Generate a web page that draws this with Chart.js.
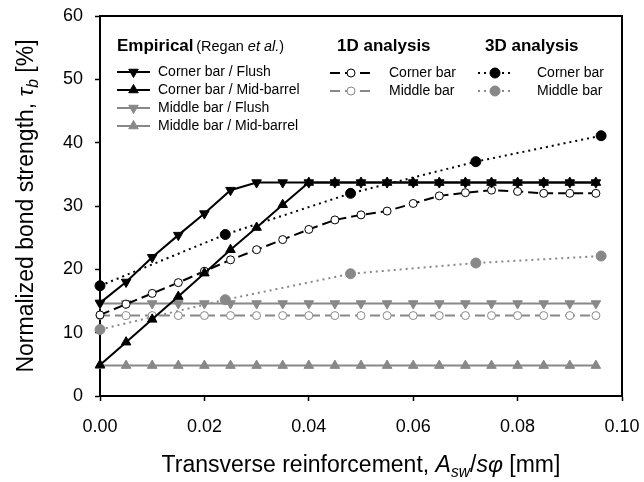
<!DOCTYPE html>
<html>
<head>
<meta charset="utf-8">
<script src="https://cdn.jsdelivr.net/npm/chart.js@4.4.1/dist/chart.umd.min.js"></script>
<style>
  html, body { margin: 0; padding: 0; background: #fff; }
  #wrap { width: 644px; height: 482px; position: relative; }
</style>
</head>
<body>
<div id="wrap"><canvas id="chart"></canvas></div>
<script>
'use strict';

// Stirrup ratio A_sw/s*phi [mm] for the empirical curves and the 1D model.
const xFine = [0, 0.005, 0.01, 0.015, 0.02, 0.025, 0.03, 0.035, 0.04, 0.045,
               0.05, 0.055, 0.06, 0.065, 0.07, 0.075, 0.08, 0.085, 0.09, 0.095];
// Coarser steps used by the 3D model runs.
const x3D = [0, 0.024, 0.048, 0.072, 0.096];

// Empirical (Regan et al.)
const cornerFlush = [14.7, 18.0, 21.9, 25.4, 28.8, 32.5, 33.7, 33.7, 33.7, 33.7,
                     33.7, 33.7, 33.7, 33.7, 33.7, 33.7, 33.7, 33.7, 33.7, 33.7];
const cornerMid = [4.9, 8.5, 12.1, 15.7, 19.4, 23.1, 26.6, 30.2, 33.7, 33.7,
                   33.7, 33.7, 33.7, 33.7, 33.7, 33.7, 33.7, 33.7, 33.7, 33.7];
const middleFlush = [14.6, 14.6, 14.6, 14.6, 14.6, 14.6, 14.6, 14.6, 14.6, 14.6,
                     14.6, 14.6, 14.6, 14.6, 14.6, 14.6, 14.6, 14.6, 14.6, 14.6];
const middleMid = [4.8, 4.8, 4.8, 4.8, 4.8, 4.8, 4.8, 4.8, 4.8, 4.8,
                   4.8, 4.8, 4.8, 4.8, 4.8, 4.8, 4.8, 4.8, 4.8, 4.8];

// 1D analysis
const corner1D = [12.8, 14.5, 16.2, 17.9, 19.7, 21.5, 23.1, 24.7, 26.3, 27.8,
                  28.6, 29.2, 30.4, 31.6, 32.1, 32.5, 32.3, 32.0, 32.0, 32.0];
const middle1D = [12.7, 12.7, 12.7, 12.7, 12.7, 12.7, 12.7, 12.7, 12.7, 12.7,
                  12.7, 12.7, 12.7, 12.7, 12.7, 12.7, 12.7, 12.7, 12.7, 12.7];

// 3D analysis
const corner3D = [17.4, 25.5, 32.0, 37.0, 41.1];
const middle3D = [10.5, 15.2, 19.3, 21.0, 22.1];

const FONT = '"Liberation Sans", Arial, Helvetica, sans-serif';
const BLACK = '#000';
const GREY = '#888';

function pts(xs, ys) {
    return xs.map((x, i) => ({ x: x, y: ys[i] }));
}

const datasets = [
    { label: 'Corner bar / Flush', data: pts(xFine, cornerFlush), borderColor: BLACK, backgroundColor: BLACK,
      borderWidth: 2, pointStyle: 'triangle', rotation: 180, pointRadius: 5.5, pointBorderWidth: 1 },
    { label: 'Corner bar / Mid-barrel', data: pts(xFine, cornerMid), borderColor: BLACK, backgroundColor: BLACK,
      borderWidth: 2, pointStyle: 'triangle', rotation: 0, pointRadius: 5.5, pointBorderWidth: 1 },
    { label: '1D Corner bar', data: pts(xFine, corner1D), borderColor: BLACK, backgroundColor: '#fff',
      borderWidth: 2, borderDash: [10, 5], pointStyle: 'circle', pointRadius: 4, pointBorderWidth: 1 },
    { label: '3D Corner bar', data: pts(x3D, corner3D), borderColor: BLACK, backgroundColor: BLACK,
      borderWidth: 2, borderDash: [2, 4], pointStyle: 'circle', pointRadius: 5, pointBorderWidth: 1 },
    { label: 'Middle bar / Flush', data: pts(xFine, middleFlush), borderColor: GREY, backgroundColor: GREY,
      borderWidth: 2, pointStyle: 'triangle', rotation: 180, pointRadius: 5.5, pointBorderWidth: 1 },
    { label: 'Middle bar / Mid-barrel', data: pts(xFine, middleMid), borderColor: GREY, backgroundColor: GREY,
      borderWidth: 2, pointStyle: 'triangle', rotation: 0, pointRadius: 5.5, pointBorderWidth: 1 },
    { label: '1D Middle bar', data: pts(xFine, middle1D), borderColor: GREY, backgroundColor: '#fff',
      borderWidth: 2, borderDash: [10, 5], pointStyle: 'circle', pointRadius: 4, pointBorderWidth: 1 },
    { label: '3D Middle bar', data: pts(x3D, middle3D), borderColor: GREY, backgroundColor: GREY,
      borderWidth: 2, borderDash: [2, 4], pointStyle: 'circle', pointRadius: 5, pointBorderWidth: 1 },
];
for (const ds of datasets) {
    ds.pointBorderColor = ds.borderColor;
    ds.pointBackgroundColor = ds.backgroundColor;
    ds.fill = false;
    ds.tension = 0;
    ds.clip = false;
}

// Draw a run of text made of styled pieces, left to right.
function drawRich(ctx, parts, x, y, size) {
    for (const p of parts) {
        const s = p.sub ? size * 0.68 : size;
        ctx.font = (p.italic ? 'italic ' : '') + (p.bold ? 'bold ' : '') + s + 'px ' + FONT;
        ctx.fillText(p.t, x, y + (p.sub ? size * 0.28 : 0));
        x += ctx.measureText(p.t).width;
    }
    return x;
}
function richWidth(ctx, parts, size) {
    let w = 0;
    for (const p of parts) {
        const s = p.sub ? size * 0.68 : size;
        ctx.font = (p.italic ? 'italic ' : '') + (p.bold ? 'bold ' : '') + s + 'px ' + FONT;
        w += ctx.measureText(p.t).width;
    }
    return w;
}

const xTitle = [
    { t: 'Transverse reinforcement, ' }, { t: 'A', italic: true }, { t: 'sw', italic: true, sub: true },
    { t: '/' }, { t: 's', italic: true }, { t: '\u03c6', italic: true }, { t: ' [mm]' },
];
const yTitle = [
    { t: 'Normalized bond strength, ' }, { t: '\u03c4', italic: true }, { t: 'b', italic: true, sub: true },
    { t: ' [%]' },
];

// Legend entries: dataset index, sample line span, row y, text x.
const legendRows = [
    { ds: 0, x0: 117, x1: 150, y: 72, tx: 158, text: 'Corner bar / Flush' },
    { ds: 1, x0: 117, x1: 150, y: 90, tx: 158, text: 'Corner bar / Mid-barrel' },
    { ds: 4, x0: 117, x1: 150, y: 108, tx: 158, text: 'Middle bar / Flush' },
    { ds: 5, x0: 117, x1: 150, y: 126, tx: 158, text: 'Middle bar / Mid-barrel' },
    { ds: 2, x0: 330, x1: 372, y: 73, tx: 389, text: 'Corner bar' },
    { ds: 6, x0: 330, x1: 372, y: 91, tx: 389, text: 'Middle bar' },
    { ds: 3, x0: 478, x1: 512, y: 73, tx: 537, text: 'Corner bar' },
    { ds: 7, x0: 478, x1: 512, y: 91, tx: 537, text: 'Middle bar' },
];

const framePlugin = {
    id: 'frame',
    beforeDatasetsDraw(chart) {
        const { ctx, chartArea: a } = chart;
        ctx.save();
        ctx.strokeStyle = BLACK;
        ctx.lineWidth = 2;
        ctx.strokeRect(a.left, a.top, a.right - a.left, a.bottom - a.top);
        ctx.restore();
    },
    afterDraw(chart) {
        const { ctx, chartArea: a } = chart;
        ctx.save();
        ctx.fillStyle = BLACK;
        ctx.textBaseline = 'middle';

        // axis titles
        const xw = richWidth(ctx, xTitle, 23);
        drawRich(ctx, xTitle, (a.left + a.right) / 2 - xw / 2, 466, 23);
        ctx.save();
        ctx.translate(27, (a.top + a.bottom) / 2);
        ctx.rotate(-Math.PI / 2);
        const yw = richWidth(ctx, yTitle, 23);
        drawRich(ctx, yTitle, -yw / 2, 0, 23);
        ctx.restore();

        // legend headings
        ctx.textBaseline = 'alphabetic';
        drawRich(ctx, [{ t: 'Empirical', bold: true }], 117, 51, 17);
        const hx = 117 + richWidth(ctx, [{ t: 'Empirical ', bold: true }], 17);
        drawRich(ctx, [{ t: '(Regan ' }, { t: 'et al.', italic: true }, { t: ')' }], hx - 2, 51, 14.5);
        drawRich(ctx, [{ t: '1D analysis', bold: true }], 337, 51, 17);
        drawRich(ctx, [{ t: '3D analysis', bold: true }], 485, 51, 17);

        // legend samples
        for (const r of legendRows) {
            const ds = chart.data.datasets[r.ds];
            ctx.save();
            ctx.strokeStyle = ds.borderColor;
            ctx.lineWidth = ds.borderWidth;
            ctx.setLineDash(ds.borderDash || []);
            ctx.beginPath();
            ctx.moveTo(r.x0, r.y);
            ctx.lineTo(r.x1, r.y);
            ctx.stroke();
            ctx.setLineDash([]);
            ctx.fillStyle = ds.pointBackgroundColor;
            ctx.strokeStyle = ds.pointBorderColor;
            ctx.lineWidth = ds.pointBorderWidth;
            Chart.helpers.drawPoint(ctx, {
                pointStyle: ds.pointStyle, rotation: ds.rotation || 0,
                radius: ds.pointRadius, borderWidth: ds.pointBorderWidth,
            }, (r.x0 + r.x1) / 2, r.y);
            ctx.restore();
            ctx.fillStyle = BLACK;
            ctx.textBaseline = 'middle';
            ctx.font = '14px ' + FONT;
            ctx.fillText(r.text, r.tx, r.y);
        }
        ctx.restore();
    },
};

const ctx = document.getElementById('chart').getContext('2d');
new Chart(ctx, {
    type: 'line',
    data: { datasets: datasets },
    plugins: [framePlugin],
    options: {
        responsive: true,
        maintainAspectRatio: false,
        animation: false,
        layout: { autoPadding: false, padding: { left: 0, top: 16, right: 22, bottom: 0 } },
        plugins: { legend: { display: false }, tooltip: { enabled: false } },
        scales: {
            x: {
                type: 'linear',
                min: 0,
                max: 0.1,
                afterFit(scale) {
                    scale.height = 86;
                    scale.paddingLeft = 0;
                    scale.paddingRight = 0;
                },
                border: { color: BLACK, width: 2 },
                grid: { drawOnChartArea: false, tickLength: 5, tickColor: BLACK, tickWidth: 1.5 },
                ticks: {
                    stepSize: 0.02,
                    padding: 15,
                    color: BLACK,
                    font: { family: FONT, size: 18 },
                    callback: (v) => v.toFixed(2),
                },
            },
            y: {
                min: 0,
                max: 60,
                afterFit(scale) {
                    scale.width = 100;
                    scale.paddingTop = 0;
                    scale.paddingBottom = 0;
                },
                border: { color: BLACK, width: 2 },
                grid: { drawOnChartArea: false, tickLength: 5, tickColor: BLACK, tickWidth: 1.5 },
                ticks: {
                    stepSize: 10,
                    padding: 12,
                    color: BLACK,
                    font: { family: FONT, size: 18 },
                },
            },
        },
    },
});
</script>
</body>
</html>
